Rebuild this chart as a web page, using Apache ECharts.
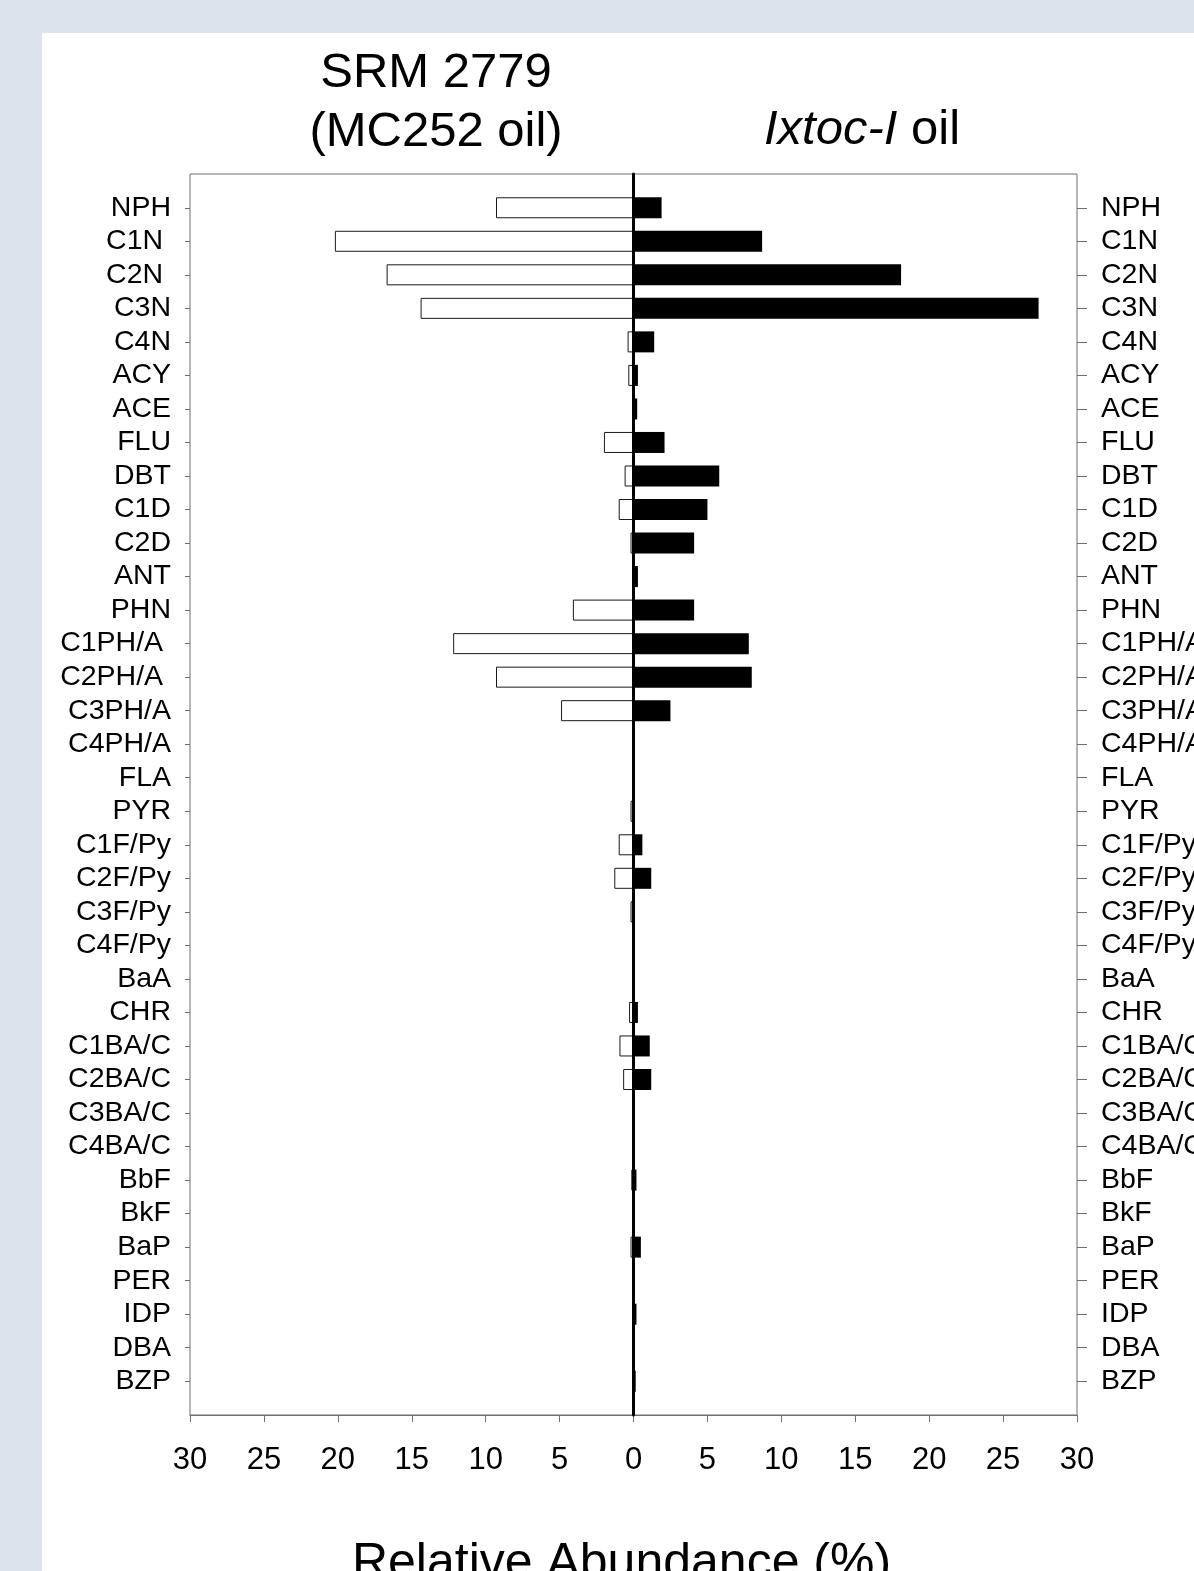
<!DOCTYPE html>
<html>
<head>
<meta charset="utf-8">
<script src="https://cdn.jsdelivr.net/npm/echarts@6/dist/echarts.min.js"></script>
<style>
  html, body { margin: 0; padding: 0; background: #dde3ec; }
  #panel { position: absolute; left: 42px; top: 33px; right: 0; bottom: 0; background: #ffffff; }
  #chart { position: absolute; left: 0; top: 0; width: 1194px; height: 1571px; }
</style>
</head>
<body>
<div id="panel"></div>
<div id="chart"></div>
<script>
// Categories (top to bottom); trailing spaces as in the original left labels
const categories = ['NPH','C1N ','C2N ','C3N','C4N','ACY','ACE','FLU','DBT','C1D','C2D','ANT','PHN',
  'C1PH/A ','C2PH/A ','C3PH/A','C4PH/A','FLA','PYR','C1F/Py','C2F/Py','C3F/Py','C4F/Py','BaA','CHR',
  'C1BA/C','C2BA/C','C3BA/C','C4BA/C','BbF','BkF','BaP','PER','IDP','DBA','BZP'];

// SRM 2779 (MC252 oil) relative abundance (%) - drawn to the left
const srm2779 = [9.3, 20.2, 16.7, 14.4, 0.4, 0.35, 0.1, 2.0, 0.6, 1.0, 0.2, 0, 4.1,
  12.2, 9.3, 4.9, 0, 0, 0.2, 1.0, 1.3, 0.2, 0, 0.1, 0.3,
  0.95, 0.7, 0, 0, 0.15, 0, 0.2, 0, 0, 0, 0];

// Ixtoc-I oil relative abundance (%) - drawn to the right
const ixtoc = [1.9, 8.7, 18.1, 27.4, 1.4, 0.3, 0.25, 2.1, 5.8, 5.0, 4.1, 0.3, 4.1,
  7.8, 8.0, 2.5, 0, 0.1, 0.05, 0.6, 1.2, 0, 0, 0.1, 0.3,
  1.1, 1.2, 0, 0, 0.2, 0, 0.5, 0, 0.2, 0, 0.15];

const xTicks = { min: -30, max: 30, interval: 5 };

const FONT = "'Liberation Sans', Arial, sans-serif";
const chart = echarts.init(document.getElementById('chart'), null, { renderer: 'canvas' });

const option = {
  backgroundColor: 'transparent',
  animation: false,
  textStyle: { fontFamily: FONT, color: '#000' },
  grid: [
    { left: 190, right: 117, top: 191, bottom: 173, show: false, containLabel: false, outerBoundsMode: 'none' },
    { left: 190, right: 117, top: 174, bottom: 156, show: true, borderColor: '#6f6f6f', borderWidth: 1,
      backgroundColor: 'transparent', containLabel: false, outerBoundsMode: 'none' }
  ],
  graphic: [
    { type: 'text', x: 436, y: 73, z: 10,
      style: { text: 'SRM 2779', fontSize: 49, fontFamily: FONT, fill: '#000', align: 'center', verticalAlign: 'middle', textAlign: 'center', textVerticalAlign: 'middle' } },
    { type: 'text', x: 436, y: 132, z: 10,
      style: { text: '(MC252 oil)', fontSize: 49, fontFamily: FONT, fill: '#000', align: 'center', verticalAlign: 'middle', textAlign: 'center', textVerticalAlign: 'middle' } },
    { type: 'text', x: 862, y: 130, z: 10,
      style: { text: '{i|Ixtoc-I} oil', fontSize: 49, fontFamily: FONT, fill: '#000', align: 'center', verticalAlign: 'middle', textAlign: 'center', textVerticalAlign: 'middle',
        rich: { i: { fontStyle: 'italic', fontSize: 49, fontFamily: FONT, fill: '#000' } } } }
  ],
  xAxis: [
    { type: 'value', gridIndex: 0, min: xTicks.min, max: xTicks.max, interval: xTicks.interval, show: false,
      axisLine: { show: false, onZero: false }, axisTick: { show: false }, axisLabel: { show: false }, splitLine: { show: false } },
    { type: 'value', gridIndex: 1, min: xTicks.min, max: xTicks.max, interval: xTicks.interval, position: 'bottom',
      axisLine: { show: true, onZero: false, lineStyle: { color: '#6f6f6f', width: 1 } },
      axisTick: { show: true, inside: false, length: 7, lineStyle: { color: '#6f6f6f', width: 1 } },
      axisLabel: { show: true, margin: 30, fontSize: 31, fontFamily: FONT, color: '#000', formatter: v => String(Math.abs(v)) },
      splitLine: { show: false },
      name: 'Relative Abundance (%)', nameLocation: 'middle', nameGap: 124,
      nameTextStyle: { fontSize: 50, fontFamily: FONT, color: '#000', padding: [0, 24, 0, 0] } }
  ],
  yAxis: [
    { type: 'category', gridIndex: 0, data: categories, inverse: true, position: 'left',
      axisLine: { show: false, onZero: false },
      axisTick: { show: true, alignWithLabel: true, length: 5, lineStyle: { color: '#6f6f6f' } },
      axisLabel: { show: true, interval: 0, margin: 19, fontSize: 28.5, fontFamily: FONT, color: '#000' },
      splitLine: { show: false } },
    { type: 'category', gridIndex: 0, data: categories, inverse: true, position: 'right',
      axisLine: { show: false, onZero: false },
      axisTick: { show: true, alignWithLabel: true, length: 10, lineStyle: { color: '#6f6f6f' } },
      axisLabel: { show: true, interval: 0, margin: 24, fontSize: 28.5, fontFamily: FONT, color: '#000', formatter: v => v.trim() },
      splitLine: { show: false } },
    { type: 'value', gridIndex: 1, min: 0, max: 1, z: 5,
      axisLine: { show: true, onZero: true, lineStyle: { color: '#000', width: 3 } },
      axisTick: { show: false }, axisLabel: { show: false }, splitLine: { show: false } }
  ],
  series: [
    { name: 'SRM 2779 (MC252 oil)', type: 'bar', xAxisIndex: 0, yAxisIndex: 0,
      data: srm2779.map(v => (v === 0 ? null : -v)), barWidth: 21, barGap: '-100%',
      itemStyle: { color: '#ffffff', borderColor: '#1a1a1a', borderWidth: 1 } },
    { name: 'Ixtoc-I oil', type: 'bar', xAxisIndex: 0, yAxisIndex: 0,
      data: ixtoc.map(v => (v === 0 ? null : v)), barWidth: 21, barGap: '-100%',
      itemStyle: { color: '#000000', borderColor: '#000000', borderWidth: 0 } }
  ]
};
chart.setOption(option);
</script>
</body>
</html>
